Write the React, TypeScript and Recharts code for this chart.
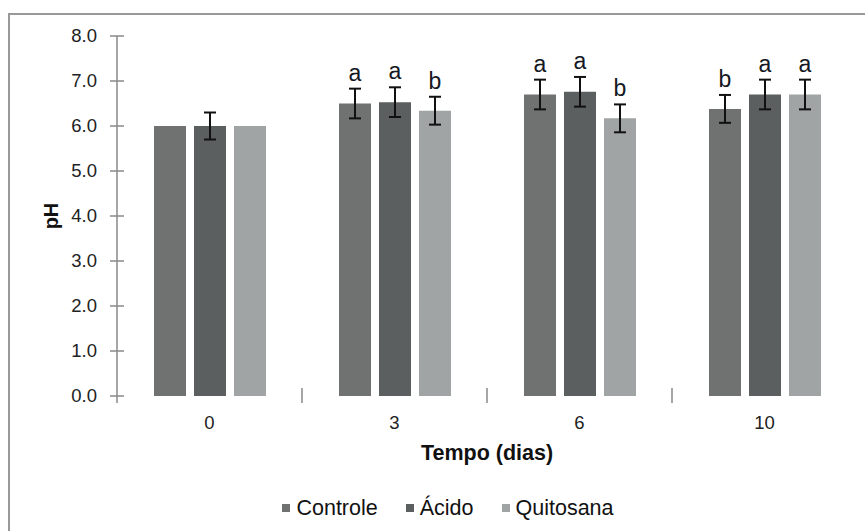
import React from 'react'
import { Bar, BarChart, ErrorBar, LabelList, Legend, XAxis, YAxis } from 'recharts'

const categories = ['0', '3', '6', '10']
const controle = [6.0, 6.5, 6.7, 6.38]
const acido = [6.0, 6.53, 6.76, 6.7]
const quitosana = [6.0, 6.34, 6.17, 6.7]
const controleErr = [0, 0.33, 0.33, 0.31]
const acidoErr = [0.3, 0.33, 0.33, 0.33]
const quitosanaErr = [0, 0.31, 0.31, 0.33]
const controleLetters = ['', 'a', 'a', 'b']
const acidoLetters = ['', 'a', 'a', 'a']
const quitosanaLetters = ['', 'b', 'b', 'a']
const yTicks = [0, 1, 2, 3, 4, 5, 6, 7, 8]

const W = 865
const H = 531
const margin = { top: 36, right: 8, left: 57, bottom: 0 }
const yAxisWidth = 60
const xAxisHeight = 75
const legendHeight = 60
const plotW = W - margin.left - yAxisWidth - margin.right
const plotH = H - margin.top - margin.bottom - xAxisHeight - legendHeight
const pxPerUnit = plotH / 8
const halfBand = plotW / categories.length / 2

const FONT = '"Liberation Sans", Arial, sans-serif'
const AXIS = '#888888'

const series = [
  { key: 'controle', name: 'Controle', color: '#6f7271', errs: controleErr, letters: controleLetters },
  { key: 'acido', name: 'Ácido', color: '#5c5f5f', errs: acidoErr, letters: acidoLetters },
  { key: 'quitosana', name: 'Quitosana', color: '#a1a4a4', errs: quitosanaErr, letters: quitosanaLetters },
]

const data = categories.map((dia, i) => ({
  dia,
  controle: controle[i],
  acido: acido[i],
  quitosana: quitosana[i],
  controleErr: controleErr[i],
  acidoErr: acidoErr[i],
  quitosanaErr: quitosanaErr[i],
}))

function YTick(props: any) {
  const { x, y, payload } = props
  return (
    <g>
      <line x1={x + 13} x2={x + 27} y1={y} y2={y} stroke={AXIS} strokeWidth={1.5} />
      {payload.value === 0 && <line x1={x + 20} x2={x + 20} y1={y} y2={y + 7} stroke={AXIS} strokeWidth={1.5} />}
      <text x={x} y={y} dy={6} textAnchor="end" fontSize={18.5} fill="#222" fontFamily={FONT}>
        {payload.value.toFixed(1)}
      </text>
    </g>
  )
}

function XTick(props: any) {
  const { x, y, payload, index } = props
  return (
    <g>
      {index > 0 && (
        <line x1={x - halfBand} x2={x - halfBand} y1={y - 8} y2={y + 7} stroke={AXIS} strokeWidth={1.5} />
      )}
      <text x={x} y={y + 33} textAnchor="middle" fontSize={18.5} fill="#222" fontFamily={FONT}>
        {payload.value}
      </text>
    </g>
  )
}

function makeLetter(errs: number[], letters: string[]) {
  return (props: any) => {
    const { x, y, width, index } = props
    const txt = letters[index]
    if (!txt) return null
    return (
      <text
        x={x + width / 2}
        y={y - errs[index] * pxPerUnit - 8}
        textAnchor="middle"
        fontSize={23}
        fill="#141822"
        fontFamily={FONT}
      >
        {txt}
      </text>
    )
  }
}

function LegendContent() {
  return (
    <div
      style={{
        height: legendHeight,
        display: 'flex',
        justifyContent: 'center',
        alignItems: 'center',
        paddingTop: 14,
        paddingRight: 18,
        boxSizing: 'border-box',
        fontFamily: FONT,
        fontSize: 21.5,
        color: '#111',
      }}
    >
      {series.map((s) => (
        <div key={s.key} style={{ display: 'flex', alignItems: 'center', margin: '0 14px' }}>
          <span style={{ width: 8, height: 8, background: s.color, marginRight: 6, display: 'inline-block' }} />
          <span>{s.name}</span>
        </div>
      ))}
    </div>
  )
}

export default function App() {
  return (
    <div style={{ position: 'fixed', left: 0, top: 0, width: W, height: H, overflow: 'hidden', background: '#fff' }}>
      <div
        style={{
          position: 'absolute',
          left: 8,
          top: 13,
          width: 900,
          height: 600,
          borderTop: '2px solid #999',
          borderLeft: '2px solid #999',
        }}
      />
      <div style={{ position: 'absolute', left: 0, top: 0 }}>
        <BarChart width={W} height={H} data={data} margin={margin} barSize={32} barGap={8}>
          <XAxis
            dataKey="dia"
            axisLine={false}
            tickLine={false}
            tickSize={0}
            tickMargin={0}
            height={xAxisHeight}
            tick={<XTick />}
            label={(p: any) => {
              const vb = p.viewBox
              return (
                <text
                  x={vb.x + vb.width / 2}
                  y={vb.y + 64}
                  textAnchor="middle"
                  fontSize={21.5}
                  fontWeight="bold"
                  fill="#111"
                  fontFamily={FONT}
                >
                  Tempo (dias)
                </text>
              )
            }}
          />
          <YAxis
            domain={[0, 8]}
            ticks={yTicks}
            width={yAxisWidth}
            tickLine={false}
            tickSize={0}
            tickMargin={20}
            axisLine={{ stroke: AXIS, strokeWidth: 1.5 }}
            tick={<YTick />}
            label={(p: any) => {
              const vb = p.viewBox
              const cx = vb.x - 6
              const cy = vb.y + vb.height / 2
              return (
                <text
                  x={cx}
                  y={cy}
                  transform={`rotate(-90 ${cx} ${cy})`}
                  textAnchor="middle"
                  dominantBaseline="central"
                  fontSize={20}
                  fontWeight="bold"
                  fill="#111"
                  fontFamily={FONT}
                >
                  pH
                </text>
              )
            }}
          />
          <Legend verticalAlign="bottom" height={legendHeight} content={<LegendContent />} />
          {series.map((s) => (
            <Bar key={s.key} dataKey={s.key} name={s.name} fill={s.color} isAnimationActive={false}>
              <ErrorBar dataKey={`${s.key}Err`} width={6} stroke="#111" strokeWidth={2} />
              <LabelList dataKey={s.key} content={makeLetter(s.errs, s.letters)} />
            </Bar>
          ))}
        </BarChart>
      </div>
    </div>
  )
}
